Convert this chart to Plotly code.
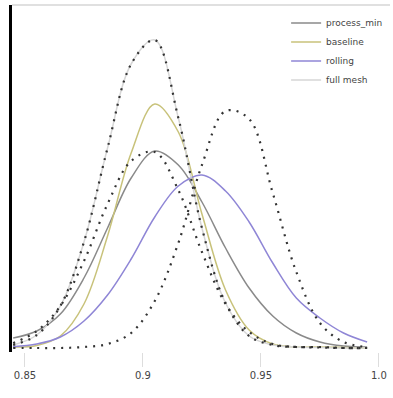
import plotly.graph_objects as go

x_vals = [0.845, 0.855, 0.865, 0.875, 0.885, 0.895, 0.905, 0.915,
          0.925, 0.935, 0.945, 0.955, 0.965, 0.975, 0.985, 0.995]

# solid series (legend)
process_min = [1.0, 1.7, 3.4, 7.0, 12.0, 17.0, 19.7, 18.3, 14.6, 10.0, 6.0, 3.2, 1.5, 0.6, 0.2, 0.1]
baseline = [0.1, 0.25, 1.2, 4.4, 11.2, 19.5, 24.4, 21.6, 13.4, 5.8, 1.8, 0.4, 0.1, 0.1, 0.05, 0.0]
rolling = [0.13, 0.4, 1.1, 2.7, 5.3, 8.9, 13.1, 16.2, 17.3, 15.7, 12.6, 8.5, 5.0, 3.0, 1.5, 0.6]
full_mesh = [0.3, 1.3, 4.2, 10.6, 20.0, 28.4, 30.8, 23.0, 12.0, 4.5, 1.2, 0.3, 0.1, 0.05, 0.0, 0.0]

# dotted series
dot_a = [0.3, 1.3, 4.2, 10.6, 20.0, 28.4, 30.8, 23.0, 12.0, 4.5, 1.2, 0.3, 0.1, 0.05, 0.0, 0.0]
dot_b = [0.0, 0.0, 0.0, 0.1, 0.4, 1.5, 4.7, 10.5, 18.3, 23.7, 22.9, 15.5, 7.6, 2.5, 0.6, 0.1]
dot_c = [0.5, 1.7, 4.2, 8.7, 14.4, 18.7, 19.6, 15.8, 9.6, 4.4, 1.6, 0.4, 0.1, 0.1, 0.0, 0.0]

names = ["process_min", "baseline", "rolling", "full mesh"]
colors = ["#8a8a8a", "#c8c27a", "#8f86d6", "#d6d6d6"]
solid = [process_min, baseline, rolling, full_mesh]

fig = go.Figure()
for ys, nm, c in zip(solid, names, colors):
    fig.add_trace(go.Scatter(x=x_vals, y=ys, name=nm, mode="lines",
                             line=dict(color=c, width=1.5, shape="spline")))
for ys in [dot_a, dot_b, dot_c]:
    fig.add_trace(go.Scatter(x=x_vals, y=ys, mode="lines", showlegend=False,
                             line=dict(color="#333333", width=2.2, dash="2px,6px", shape="spline")))

fig.update_layout(
    width=393, height=398,
    margin=dict(l=12, r=3, t=5, b=46),
    paper_bgcolor="white", plot_bgcolor="white",
    font=dict(family="DejaVu Sans", size=9, color="#444"),
    legend=dict(x=0.995, y=0.99, xanchor="right", yanchor="top",
                bgcolor="rgba(255,255,255,0)", font=dict(size=9),
                tracegroupgap=0, itemwidth=30),
    xaxis=dict(range=[0.8445, 1.0047], tickvals=[0.85, 0.9, 0.95, 1.0],
               ticktext=["0.85", "0.9", "0.95", "1.0"],
               showgrid=False, zeroline=False, showline=False,
               ticks="outside", ticklen=14, tickcolor="#ddd", tickfont=dict(size=10)),
    yaxis=dict(range=[-0.4, 34.3], showgrid=False, zeroline=False,
               showticklabels=False, showline=True, linecolor="black", linewidth=3),
)
fig.add_shape(type="line", xref="paper", yref="paper", x0=0, x1=1, y0=1, y1=1,
              line=dict(color="#e0e0e0", width=2))

fig.write_html("out.html", config={"displayModeBar": False},
               post_script="document.body.style.margin='0px';document.body.style.overflow='hidden';")
